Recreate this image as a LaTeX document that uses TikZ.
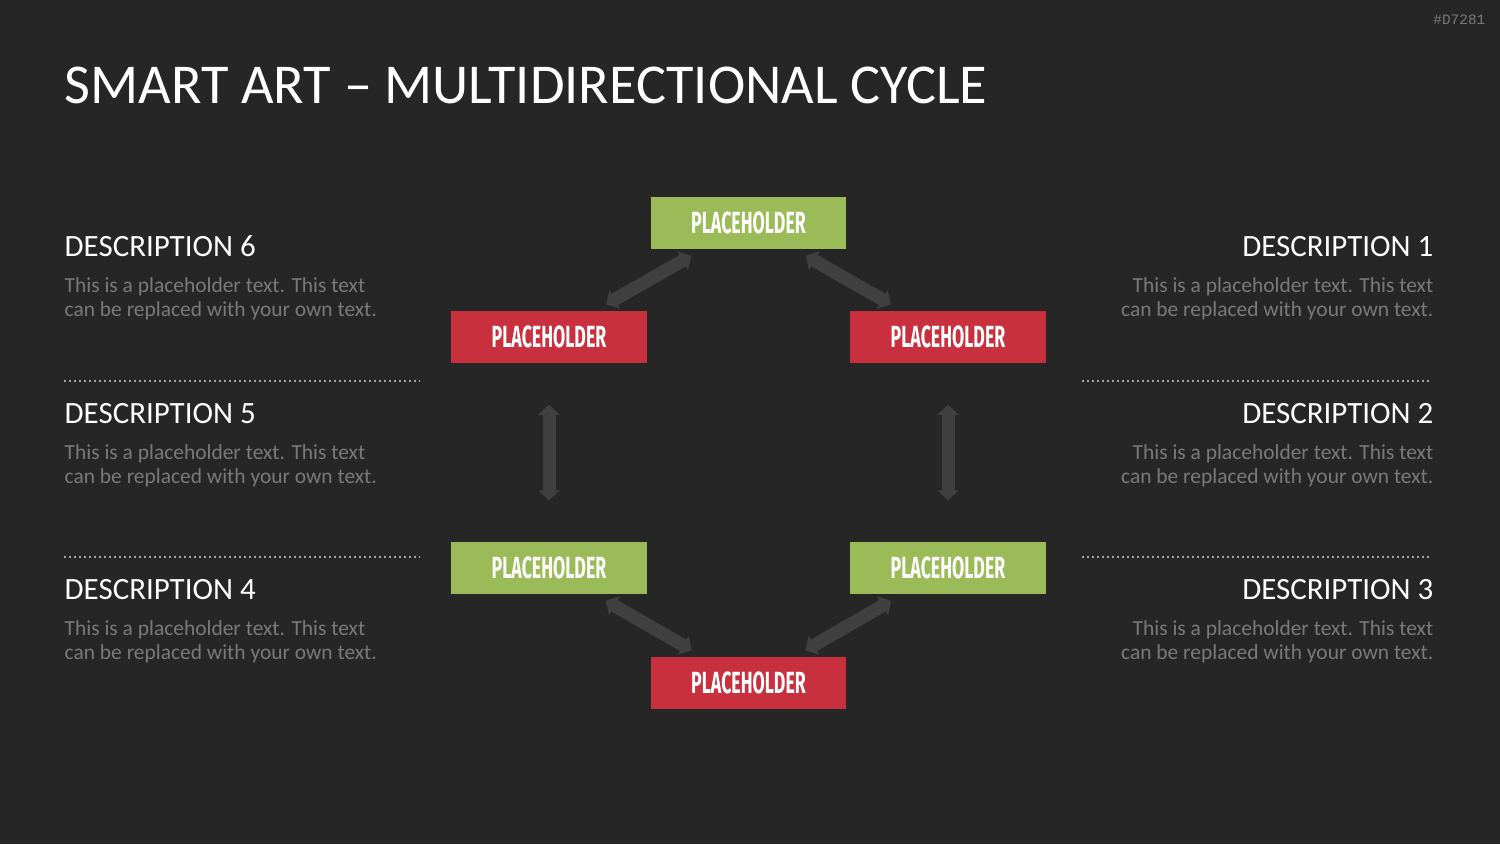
\documentclass[tikz,border=0pt]{standalone}
\usepackage{fontspec}
\setmainfont{Carlito}
\newfontfamily\phfont[FakeStretch=0.58]{Fira Sans}
\newfontfamily\tagfont{Liberation Mono}
\usetikzlibrary{arrows.meta}
\definecolor{bgdark}{HTML}{262626}
\definecolor{phgreen}{HTML}{9BBB59}
\definecolor{phred}{HTML}{C8303E}
\definecolor{arrgrey}{HTML}{404040}
\definecolor{txtgrey}{HTML}{7A7A7A}
\definecolor{dotgrey}{HTML}{A6A6A6}

\begin{document}
\begin{tikzpicture}[
    x=0.01cm, y=-0.01cm,
    ph/.style={rectangle, minimum width=1.95cm, minimum height=0.52cm, inner sep=0pt,
               text=white, font=\phfont\bfseries\fontsize{8.7pt}{9pt}\selectfont},
    cyc/.style={draw=arrgrey, line width=0.13cm,
                {Triangle[width=0.21cm, length=0.1cm]}-{Triangle[width=0.21cm, length=0.1cm]}},
    head/.style={inner sep=0pt, text=white, font=\fontsize{8.8pt}{9pt}\selectfont},
    body/.style={inner sep=0pt, text=txtgrey, font=\fontsize{6.1pt}{6.7pt}\selectfont},
    sep/.style={draw=dotgrey, line width=0.02cm, dash pattern=on 0.02cm off 0.03cm}
]
    % Background
    \fill[bgdark] (0,0) rectangle (1500,844);
    \useasboundingbox (0,0) rectangle (1500,844);

    % Title and tag
    \node[anchor=base west, inner sep=0pt, text=white, font=\fontsize{16pt}{18pt}\selectfont]
        (title) at (64,103) {SMART ART -- MULTIDIRECTIONAL CYCLE};
    \node[anchor=base east, inner sep=0pt, text=txtgrey, font=\tagfont\fontsize{4.1pt}{5pt}\selectfont]
        (tag) at (1486,24) {\#D7281};

    % Cycle boxes
    \node[ph, fill=phgreen] (top) at (748.5,223) {PLACEHOLDER};
    \node[ph, fill=phred]   (upR) at (948,337)   {PLACEHOLDER};
    \node[ph, fill=phgreen] (loR) at (948,568)   {PLACEHOLDER};
    \node[ph, fill=phred]   (bot) at (748.5,683) {PLACEHOLDER};
    \node[ph, fill=phgreen] (loL) at (549,568)   {PLACEHOLDER};
    \node[ph, fill=phred]   (upL) at (549,337)   {PLACEHOLDER};

    % Double arrows
    \draw[cyc, shorten <=0.12cm, shorten >=0.12cm] (top) -- (upR);
    \draw[cyc, shorten <=0.41cm, shorten >=0.41cm] (upR) -- (loR);
    \draw[cyc, shorten <=0.12cm, shorten >=0.12cm] (loR) -- (bot);
    \draw[cyc, shorten <=0.12cm, shorten >=0.12cm] (bot) -- (loL);
    \draw[cyc, shorten <=0.41cm, shorten >=0.41cm] (loL) -- (upL);
    \draw[cyc, shorten <=0.12cm, shorten >=0.12cm] (upL) -- (top);

    % Left descriptions
    \foreach \n/\y in {6/256, 5/423, 4/599} {
        \node[head, anchor=base west] (hd\n) at (64,\y) {DESCRIPTION \n};
        \node[body, anchor=base west, align=left] (tx\n) at (64,\y+60)
            {This is a placeholder text. This text\\can be replaced with your own text.};
    }
    % Right descriptions
    \foreach \n/\y in {1/256, 2/423, 3/599} {
        \node[head, anchor=base east] (hd\n) at (1434,\y) {DESCRIPTION \n};
        \node[body, anchor=base east, align=right] (tx\n) at (1434,\y+60)
            {This is a placeholder text. This text\\can be replaced with your own text.};
    }

    % Dotted separators
    \foreach \y in {381, 557} {
        \draw[sep] (64,\y) -- (420,\y);
        \draw[sep] (1082,\y) -- (1432,\y);
    }
\end{tikzpicture}
\end{document}
